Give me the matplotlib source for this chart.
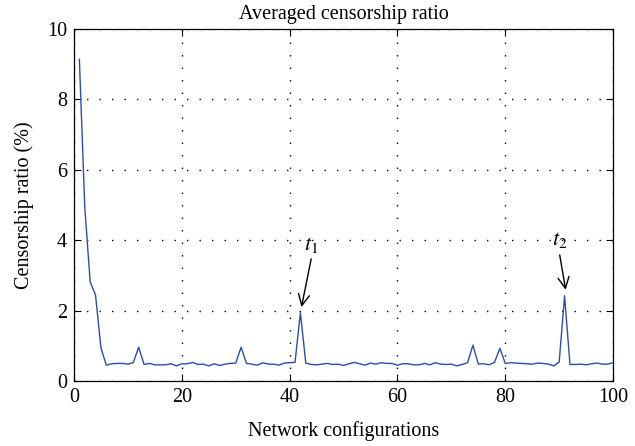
import numpy as np
import matplotlib
matplotlib.use("Agg")
import matplotlib.pyplot as plt

plt.rcParams['font.family'] = ['Liberation Serif', 'DejaVu Serif']
plt.rcParams['mathtext.fontset'] = 'stix'

configs = np.arange(1, 101)
ratio = [9.14, 4.95, 2.82, 2.44, 0.94, 0.45, 0.49, 0.50, 0.50, 0.48,
         0.52, 0.96, 0.47, 0.50, 0.46, 0.46, 0.46, 0.49, 0.43, 0.49,
         0.49, 0.53, 0.47, 0.48, 0.43, 0.49, 0.44, 0.48, 0.50, 0.51,
         0.96, 0.50, 0.48, 0.45, 0.52, 0.48, 0.48, 0.45, 0.51, 0.52,
         0.53, 1.94, 0.51, 0.47, 0.46, 0.48, 0.50, 0.47, 0.48, 0.44,
         0.49, 0.53, 0.49, 0.45, 0.51, 0.48, 0.52, 0.50, 0.50, 0.45,
         0.49, 0.49, 0.46, 0.46, 0.50, 0.46, 0.52, 0.48, 0.47, 0.48,
         0.43, 0.47, 0.52, 1.02, 0.48, 0.49, 0.46, 0.53, 0.93, 0.50,
         0.52, 0.51, 0.50, 0.49, 0.48, 0.51, 0.50, 0.48, 0.43, 0.54,
         2.42, 0.47, 0.47, 0.48, 0.46, 0.49, 0.51, 0.48, 0.48, 0.52]

xticks = [0, 20, 40, 60, 80, 100]
yticks = [0, 2, 4, 6, 8, 10]

fig = plt.figure(figsize=(6.35, 4.46), dpi=100)
ax = fig.add_axes([0.1165, 0.1457, 0.849, 0.7893])

ax.plot(configs, ratio, color='#2b4db0', lw=1.0)

ax.set_xlim(0, 100)
ax.set_ylim(0, 10)
ax.set_xticks(xticks)
ax.set_yticks(yticks)
ax.tick_params(direction='in', top=True, right=True, labelsize=14.5, length=5, width=0.8, pad=5)
ax.grid(True, color='black', linestyle=(0, (1, 8)), linewidth=1.0)
for s in ax.spines.values():
    s.set_linewidth(0.9)

ax.set_title('Averaged censorship ratio', fontsize=14.5, pad=7)
ax.set_xlabel('Network configurations', fontsize=14.5, labelpad=10)
ax.set_ylabel('Censorship ratio (%)', fontsize=14.5, labelpad=9)

arrow = dict(arrowstyle='->', color='black', lw=1.0, mutation_scale=20, shrinkA=0, shrinkB=0)
ax.annotate('', xy=(42.2, 2.1), xytext=(44.0, 3.47), arrowprops=arrow)
ax.text(44.0, 3.87, r'$t_1$', fontsize=16, ha='center', va='center')
ax.annotate('', xy=(91.2, 2.59), xytext=(90.1, 3.58), arrowprops=arrow)
ax.text(90.1, 4.01, r'$t_2$', fontsize=16, ha='center', va='center')

fig.savefig('out.png', dpi=100)
